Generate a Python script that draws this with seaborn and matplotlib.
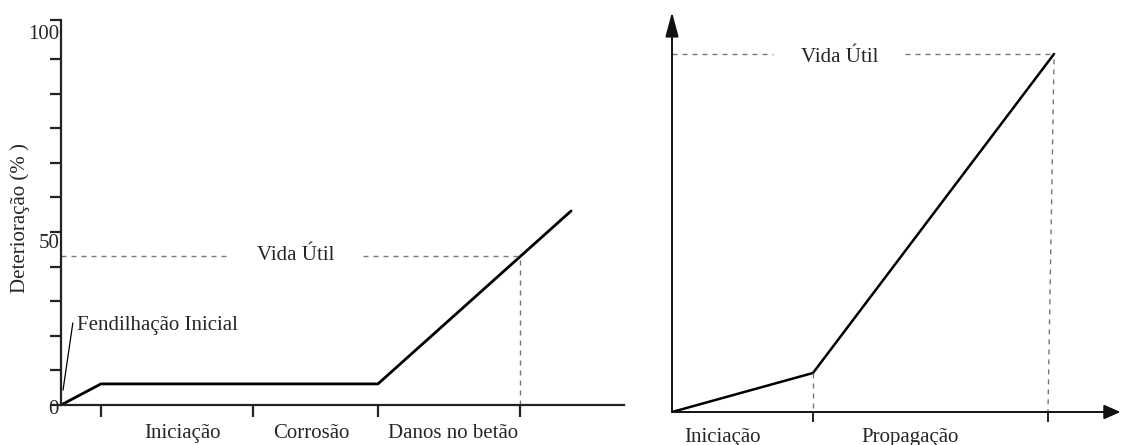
import matplotlib
matplotlib.use("Agg")
import matplotlib.pyplot as plt
import numpy as np
import pandas as pd
import seaborn as sns

sns.set_theme(style="white")
plt.rcParams["font.family"] = ["Liberation Serif", "DejaVu Serif"]

# ---- left diagram: deterioration vs. time (schematic units) ----
left_x = [0, 7.1, 56.3, 90.6]
left_y = [0, 6.1, 6.1, 56.1]
left_ticks_x = [7.1, 34.1, 56.3, 81.5]
left_ticks_y = [0, 10, 20, 30, 40, 50, 60, 70, 80, 90, 100, 111.3]
left_phase_labels = ["Iniciação", "Corrosão", "Danos no betão"]
left_phase_pos = [21.5, 44.4, 69.6]
left_vida_util_x = 81.5
left_vida_util_y = 43.1
left_ylabels = ["0", "50", "100"]

# ---- right diagram: initiation / propagation ----
right_x = [0, 37.5, 101.6]
right_y = [0, 10.9, 100]
right_ticks_x = [37.5, 100]
right_phase_labels = ["Iniciação", "Propagação"]
right_phase_pos = [13.3, 63.3]

W, H = 1121, 445
fig = plt.figure(figsize=(W / 100, H / 100), dpi=100)
fig.patch.set_facecolor("white")


def box(x0, y0, x1, y1):
    # pixel box (top-left origin) -> figure fraction rect
    return [x0 / W, (H - y1) / H, (x1 - x0) / W, (y1 - y0) / H]


FS = 15
dash_kw = dict(color="#777777", lw=1.0, dashes=(3.6, 3.6))

# ================= left panel =================
ax1 = fig.add_axes(box(61, 20, 624, 405))
ax1.set_facecolor("none")
df1 = pd.DataFrame({"t": left_x, "d": left_y})
sns.lineplot(data=df1, x="t", y="d", ax=ax1, color="black", lw=2.0, sort=False)
ax1.set_xlim(0, 100)
ax1.set_ylim(0, 111.3)
for s in ["top", "right"]:
    ax1.spines[s].set_visible(False)
for s in ["left", "bottom"]:
    ax1.spines[s].set_color("#222222")
    ax1.spines[s].set_linewidth(1.6)
ax1.set_xticks(left_ticks_x)
ax1.set_yticks(left_ticks_y)
ax1.set_xticklabels([])
ax1.set_yticklabels([])
ax1.tick_params(axis="x", direction="out", length=8.5, width=1.6, color="#222222", bottom=True)
ax1.tick_params(axis="y", direction="out", length=8, width=1.6, color="#222222", left=True)
ax1.set_xlabel("")
ax1.set_ylabel("")

# vida util guides
ax1.plot([0, 29.8], [left_vida_util_y] * 2, **dash_kw)
ax1.plot([53.6, left_vida_util_x], [left_vida_util_y] * 2, **dash_kw)
ax1.plot([left_vida_util_x] * 2, [0, left_vida_util_y], **dash_kw)
ax1.text(41.6, left_vida_util_y, "Vida Útil", fontsize=FS, ha="center", va="center")

# fendilhacao leader
ax1.plot([0.36, 2.1], [4.3, 23.7], color="black", lw=0.9)
ax1.text(2.8, 23.1, "Fendilhação Inicial", fontsize=FS, ha="left", va="center")

# y value labels
ax1.text(-1.3, -1.4, left_ylabels[0], fontsize=FS, ha="center", va="center")
ax1.text(-2.1, 46.8, left_ylabels[1], fontsize=FS, ha="center", va="center")
ax1.text(-3.0, 107.0, left_ylabels[2], fontsize=FS, ha="center", va="center")
ax1.text(-7.3, 54.0, "Deterioração (% )", fontsize=FS, ha="center", va="center",
         rotation=90)

for lab, xp in zip(left_phase_labels, left_phase_pos):
    ax1.text(xp, -8.1, lab, fontsize=FS, ha="center", va="center")

# ================= right panel =================
ax2 = fig.add_axes(box(672, 12, 1121, 412))
ax2.set_facecolor("none")
df2 = pd.DataFrame({"t": right_x, "d": right_y})
sns.lineplot(data=df2, x="t", y="d", ax=ax2, color="black", lw=1.8, sort=False)
ax2.set_xlim(0, 449 / 3.76)
ax2.set_ylim(0, 400 / 3.58)
for s in ax2.spines.values():
    s.set_visible(False)
ax2.set_xticks(right_ticks_x)
ax2.set_yticks([])
ax2.set_xticklabels([])
ax2.tick_params(axis="x", direction="out", length=7.5, width=1.4, color="#222222", bottom=True)
ax2.set_xlabel("")
ax2.set_ylabel("")

arrow_kw = dict(arrowstyle="-|>,head_length=0.75,head_width=0.2", lw=1.4,
                color="#111111", mutation_scale=20, shrinkA=0, shrinkB=0)
ax2.annotate("", xy=(0, 1), xytext=(0, 0), xycoords="axes fraction",
             textcoords="axes fraction", arrowprops=arrow_kw)
ax2.annotate("", xy=(0.999, 0), xytext=(0, 0), xycoords="axes fraction",
             textcoords="axes fraction",
             arrowprops=dict(arrow_kw, arrowstyle="-|>,head_length=0.5,head_width=0.22"))

ax2.plot([0, 26.9], [100, 100], **dash_kw)
ax2.plot([62.0, 101.6], [100, 100], **dash_kw)
ax2.plot([101.6, 100], [98.5, 0], **dash_kw)
ax2.plot([37.5, 37.5], [10.9, 0], **dash_kw)
ax2.text(44.7, 98.9, "Vida Útil", fontsize=FS, ha="center", va="center")

for lab, xp in zip(right_phase_labels, right_phase_pos):
    ax2.text(xp, -7.0, lab, fontsize=FS, ha="center", va="center")

fig.savefig("out.png", dpi=100, facecolor="white")
